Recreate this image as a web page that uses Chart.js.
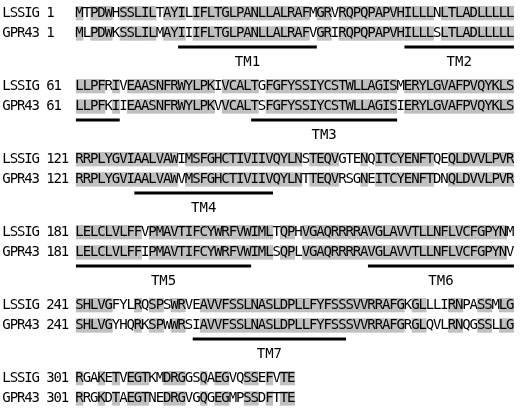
<!DOCTYPE html>
<html>
<head>
<meta charset="utf-8">
<script src="https://cdn.jsdelivr.net/npm/chart.js@4.4.1/dist/chart.umd.min.js"></script>
<style>
  html, body { margin: 0; padding: 0; background: #fff; }
  #wrap { width: 520px; height: 411px; position: relative; }
</style>
</head>
<body>
<div id="wrap"><canvas id="aln"></canvas></div>
<script>
// ── Alignment data ──────────────────────────────────────────────────────────
const names = ['LSSIG', 'GPR43'];
const starts = [1, 61, 121, 181, 241, 301];

const lssig = [
    'MTPDWHSSLILTAYILIFLTGLPANLLALRAFMGRVRQPQPAPVHILLLNLTLADLLLLL',
    'LLPFRIVEAASNFRWYLPKIVCALTGFGFYSSIYCSTWLLAGISMERYLGVAFPVQYKLS',
    'RRPLYGVIAALVAWIMSFGHCTIVIIVQYLNSTEQVGTENQITCYENFTQEQLDVVLPVR',
    'LELCLVLFFVPMAVTIFCYWRFVWIMLTQPHVGAQRRRRAVGLAVVTLLNFLVCFGPYNM',
    'SHLVGFYLRQSPSWRVEAVVFSSLNASLDPLLFYFSSSVVRRAFGKGLLLIRNPASSMLG',
    'RGAKETVEGTKMDRGGSQAEGVQSSEFVTE'
];
const gpr43 = [
    'MLPDWKSSLILMAYIIIFLTGLPANLLALRAFVGRIRQPQPAPVHILLLSLTLADLLLLL',
    'LLPFKIIEAASNFRWYLPKVVCALTSFGFYSSIYCSTWLLAGISIERYLGVAFPVQYKLS',
    'RRPLYGVIAALVAWVMSFGHCTIVIIVQYLNTTEQVRSGNEITCYENFTDNQLDVVLPVR',
    'LELCLVLFFIPMAVTIFCYWRFVWIMLSQPLVGAQRRRRAVGLAVVTLLNFLVCFGPYNV',
    'SHLVGYHQRKSPWWRSIAVVFSSLNASLDPLLFYFSSSVVRRAFGRGLQVLRNQGSSLLG',
    'RRGKDTAEGTNEDRGVGQGEGMPSSDFTTE'
];

// transmembrane segments: [block, first residue, last residue] (1-based within the line)
const tmNames  = ['TM1', 'TM2', 'TM3', 'TM4', 'TM5', 'TM6', 'TM7'];
const tmBlocks = [0, 0, 1, 2, 3, 3, 4];
const tmFrom   = [15, 46, 25, 9, 1, 41, 17];
const tmTo     = [33, 60, 44, 27, 24, 60, 37];
// leading piece of TM2 that wraps onto the next line
const tmWrapBlock = [1];
const tmWrapFrom  = [1];
const tmWrapTo    = [6];

// ── Layout (columns of a monospaced line, y in block units) ─────────────────
const SEQ_COL = 10;          // residues start at this column
const NUM_COL = 6;           // residue number column
const Y_TOP   = 0.18;        // first sequence within a block
const Y_BOT   = 0.455;       // second sequence
const Y_LINE  = 0.645;       // TM underline
const Y_TM    = 0.86;        // TM label
const BOX     = 0.097;       // half height of a shading box
const FONT    = '14px "DejaVu Sans Mono", "Liberation Mono", monospace';
const SHADE   = '#c0c0c0';

const seqs = [lssig, gpr43];
const rowY = [Y_TOP, Y_BOT];

// identical residues get a grey box in both rows
const shadeData = [[], []];
lssig.forEach((a, b) => {
    const g = gpr43[b];
    for (let i = 0; i < a.length; i++) {
        if (a[i] === g[i]) {
            for (let r = 0; r < 2; r++) {
                const y = b + rowY[r];
                shadeData[r].push({ x: SEQ_COL + i, y: [y - BOX, y + BOX] });
            }
        }
    }
});

function underline(block, from, to) {
    const y = block + Y_LINE;
    return {
        type: 'line',
        data: [{ x: SEQ_COL + from - 1 - 0.5, y }, { x: SEQ_COL + to - 1 + 0.5, y }],
        borderColor: '#000',
        borderWidth: 3,
        pointRadius: 0,
        order: 0
    };
}

const datasets = shadeData.map(d => ({
    type: 'bar',
    data: d,
    backgroundColor: SHADE,
    borderColor: SHADE,
    borderWidth: 0.4,
    grouped: false,
    barPercentage: 1,
    categoryPercentage: 1,
    order: 2
}));
tmNames.forEach((n, k) => datasets.push(underline(tmBlocks[k], tmFrom[k], tmTo[k])));
tmWrapBlock.forEach((b, k) => datasets.push(underline(b, tmWrapFrom[k], tmWrapTo[k])));

// ── Text plugin: names, numbers, residues and TM labels ─────────────────────
const textPlugin = {
    id: 'alnText',
    afterDatasetsDraw(chart) {
        const { ctx, scales: { x, y } } = chart;
        ctx.save();
        ctx.font = FONT;
        ctx.fillStyle = '#000';
        ctx.textBaseline = 'middle';
        ctx.textAlign = 'center';
        starts.forEach((s, b) => {
            for (let r = 0; r < 2; r++) {
                const py = y.getPixelForValue(b + rowY[r]) + 0.5;
                const nm = names[r];
                for (let c = 0; c < nm.length; c++) ctx.fillText(nm[c], x.getPixelForValue(c), py);
                const num = String(s);
                for (let c = 0; c < num.length; c++) ctx.fillText(num[c], x.getPixelForValue(NUM_COL + c), py);
                const seq = seqs[r][b];
                for (let i = 0; i < seq.length; i++) ctx.fillText(seq[i], x.getPixelForValue(SEQ_COL + i), py);
            }
        });
        tmNames.forEach((n, k) => {
            const mid = SEQ_COL + (tmFrom[k] + tmTo[k]) / 2 - 1;
            ctx.fillText(n, x.getPixelForValue(mid), y.getPixelForValue(tmBlocks[k] + Y_TM));
        });
        ctx.restore();
    }
};

new Chart(document.getElementById('aln'), {
    type: 'bar',
    data: { datasets },
    plugins: [textPlugin],
    options: {
        responsive: true,
        maintainAspectRatio: false,
        animation: false,
        layout: { padding: 0 },
        plugins: { legend: { display: false }, tooltip: { enabled: false } },
        scales: {
            x: { type: 'linear', display: false, offset: false, min: -0.9, max: 70.33 },
            y: { type: 'linear', display: false, reverse: true, min: 0, max: 411 / 73 }
        }
    }
});
</script>
</body>
</html>
